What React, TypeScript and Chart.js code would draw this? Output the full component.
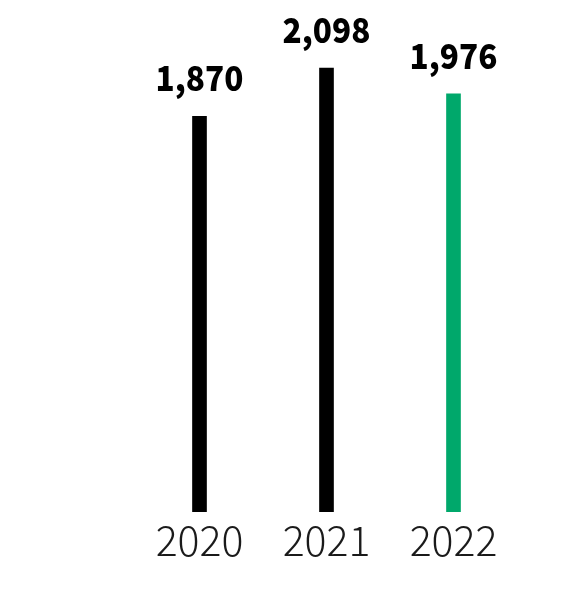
import React, { useEffect, useRef } from "react";
import { Chart, registerables } from "chart.js";

Chart.register(...registerables);

const categories: string[] = ["2020", "2021", "2022"];
const values: number[] = [1870, 2098, 1976];
const barColors: string[] = ["#000000", "#000000", "#00a86b"];
const valueLabels: string[] = ["1,870", "2,098", "1,976"];

const W = 585;
const H = 599;

const valueLabelPlugin = {
  id: "valueLabels",
  afterDatasetsDraw(chart: any) {
    const ctx = chart.ctx;
    const meta = chart.getDatasetMeta(0);
    ctx.save();
    ctx.font = '900 35px "Noto Sans CJK SC", "Noto Sans", sans-serif';
    ctx.fillStyle = "#000000";
    ctx.textAlign = "center";
    ctx.textBaseline = "alphabetic";
    meta.data.forEach((el: any, i: number) => {
      ctx.save();
      ctx.translate(el.x, el.y - 25);
      ctx.scale(0.9, 1);
      ctx.fillText(valueLabels[i], 0, 0);
      ctx.restore();
    });
    ctx.restore();
  },
};

export default function App() {
  const ref = useRef<HTMLCanvasElement | null>(null);
  useEffect(() => {
    if (!ref.current) return;
    const chart = new Chart(ref.current, {
      type: "bar",
      data: {
        labels: categories,
        datasets: [
          {
            data: values,
            backgroundColor: barColors,
            barThickness: 14,
            borderWidth: 0,
          },
        ],
      },
      options: {
        responsive: false,
        animation: false,
        devicePixelRatio: 1,
        layout: { padding: { left: 136, right: 68, top: 0, bottom: 0 } },
        plugins: { legend: { display: false }, tooltip: { enabled: false } },
        scales: {
          x: {
            grid: { display: false, drawTicks: false },
            border: { display: false },
            ticks: {
              color: "#1a1a1a",
              padding: 4,
              font: { family: '"Noto Sans CJK SC", "Noto Sans", sans-serif', size: 41, weight: "300" },
            },
            afterFit: (scale: any) => {
              scale.height = 87;
            },
          },
          y: {
            display: false,
            min: 0,
            max: 2420,
          },
        },
      },
      plugins: [valueLabelPlugin],
    });
    return () => chart.destroy();
  }, []);
  return (
    <div style={{ position: "absolute", left: 0, top: 0, width: W, height: H, background: "#ffffff" }}>
      <canvas ref={ref} width={W} height={H} style={{ display: "block", width: W, height: H }} />
    </div>
  );
}
